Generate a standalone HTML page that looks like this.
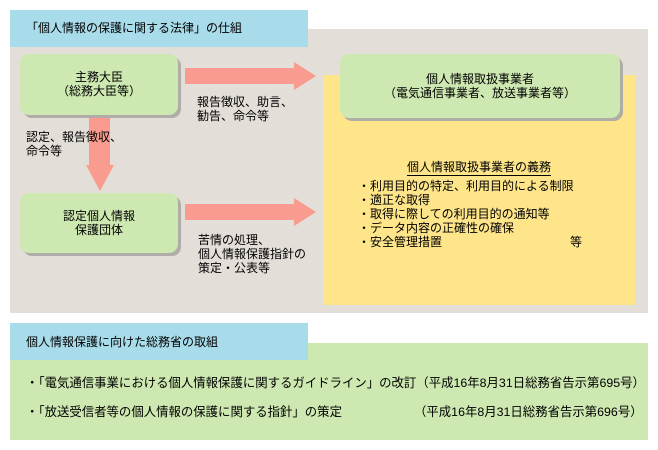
<!DOCTYPE html>
<html><head><meta charset="utf-8"><style>
*{margin:0;padding:0;box-sizing:border-box}
body{width:658px;height:450px;background:#fff;position:relative;overflow:hidden;font-family:"Liberation Sans","Noto Sans CJK JP",sans-serif;font-size:12px;color:#000;line-height:14px}
div{position:absolute}
.blue{background:#a8dcea}
.gbox{background:#cde8b0;border-radius:9px;box-shadow:3px 3px 0 #b0aca8;text-align:center}
.pink{background:#f99b8e}
.t{white-space:nowrap}
</style></head><body>
<div style="left:10px;top:29px;width:638px;height:284px;background:#e4ded8"></div>
<div class="blue" style="left:10px;top:10px;width:298px;height:37px"></div>
<div class="t" style="left:26px;top:21px;font-size:12px">「個人情報の保護に関する法律」の仕組</div>
<div style="left:323px;top:75px;width:312px;height:230px;background:#fee58a"></div>

<div class="gbox" style="left:20px;top:54px;width:158px;height:61px;padding-top:16px">主務大臣<br>（総務大臣等）</div>
<div class="gbox" style="left:20px;top:193px;width:158px;height:60px;padding-top:16px">認定個人情報<br>保護団体</div>
<div class="gbox" style="left:340px;top:54px;width:280px;height:64px;padding-top:18px">個人情報取扱事業者<br>（電気通信事業者、放送事業者等）</div>

<div class="pink" style="left:185px;top:68px;width:110px;height:16px"></div>
<div style="left:294px;top:62px;width:0;height:0;border-top:14px solid transparent;border-bottom:14px solid transparent;border-left:22px solid #f99b8e"></div>
<div class="pink" style="left:185px;top:204px;width:110px;height:16px"></div>
<div style="left:294px;top:198px;width:0;height:0;border-top:14px solid transparent;border-bottom:14px solid transparent;border-left:22px solid #f99b8e"></div>
<div class="pink" style="left:89px;top:118px;width:21px;height:48px"></div>
<div style="left:86px;top:165px;width:0;height:0;border-left:14px solid transparent;border-right:14px solid transparent;border-top:26px solid #f99b8e"></div>

<div class="t" style="left:197px;top:95px">報告徴収、助言、<br>勧告、命令等</div>
<div class="t" style="left:26px;top:130px">認定、報告徴収、<br>命令等</div>
<div class="t" style="left:198px;top:233px">苦情の処理、<br>個人情報保護指針の<br>策定・公表等</div>

<div class="t" style="left:407px;top:160px;border-bottom:1px solid #000;padding-bottom:1px">個人情報取扱事業者の義務</div>
<div class="t" style="left:358px;top:179px">・利用目的の特定、利用目的による制限<br>・適正な取得<br>・取得に際しての利用目的の通知等<br>・データ内容の正確性の確保<br>・安全管理措置</div>
<div class="t" style="left:570px;top:235px">等</div>

<div style="left:10px;top:343px;width:638px;height:97px;background:#cde8b0"></div>
<div class="blue" style="left:10px;top:323px;width:298px;height:37px"></div>
<div class="t" style="left:26px;top:335px">個人情報保護に向けた総務省の取組</div>
<div class="t" style="left:26px;top:376px;font-size:12.4px">・「電気通信事業における個人情報保護に関するガイドライン」の改訂（平成16年8月31日総務省告示第695号）</div>
<div class="t" style="left:26px;top:405px;font-size:12.4px">・「放送受信者等の個人情報の保護に関する指針」の策定</div>
<div class="t" style="left:414px;top:405px;font-size:12.4px">（平成16年8月31日総務省告示第696号）</div>
</body></html>
